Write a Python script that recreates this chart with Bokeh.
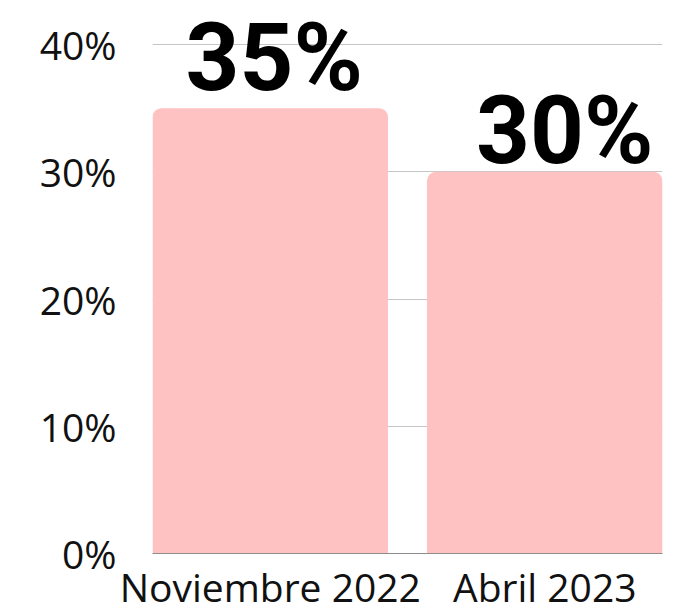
from bokeh.plotting import figure
from bokeh.models import ColumnDataSource, Range1d, FixedTicker, PrintfTickFormatter
from bokeh.core.properties import value
from bokeh.embed import file_html
from bokeh.resources import INLINE

categories = ["Noviembre 2022", "Abril 2023"]
values = [35, 30]
value_labels = ["35%", "30%"]
y_ticks = [0, 10, 20, 30, 40]

positions = list(range(len(categories)))
# label placement (style, screen pixels)
label_dx = [4, 20]
label_dy = [-50, -41]

src = ColumnDataSource(dict(x=positions, top=values, label=value_labels,
                            dx=label_dx, dy=label_dy))

p = figure(width=692, height=615, output_backend="svg", toolbar_location=None,
           x_range=Range1d(-0.429, 1.429), y_range=Range1d(0, 43.46),
           min_border_left=152, min_border_right=30, min_border_top=0,
           min_border_bottom=62)
p.outline_line_color = None
p.background_fill_color = "white"
p.border_fill_color = "white"

p.vbar(x="x", top="top", bottom=0, width=0.858, source=src,
       fill_color="#FFC2C2", line_color=None, border_radius=(9, 9, 0, 0))

p.text(x="x", y="top", text="label", source=src, x_offset="dx", y_offset="dy",
       text_align="center", text_baseline="alphabetic",
       text_font=value("Roboto"), text_font_style="bold",
       text_font_size="94px", text_color="black")

p.xgrid.grid_line_color = None
p.ygrid.ticker = FixedTicker(ticks=y_ticks)
p.ygrid.grid_line_color = "#c6c6c6"
p.ygrid.grid_line_width = 1

p.yaxis.ticker = FixedTicker(ticks=y_ticks)
p.yaxis.formatter = PrintfTickFormatter(format="%d%%")
p.yaxis.axis_line_color = None
p.yaxis.major_tick_line_color = None
p.yaxis.minor_tick_line_color = None
p.yaxis.major_label_text_font = "Open Sans"
p.yaxis.major_label_text_font_size = "39px"
p.yaxis.major_label_text_color = "#111111"
p.yaxis.major_label_standoff = 30

p.xaxis.ticker = FixedTicker(ticks=positions)
p.xaxis.major_label_overrides = {i: c for i, c in zip(positions, categories)}
p.xaxis.axis_line_color = "#8c8c8c"
p.xaxis.axis_line_width = 1
p.xaxis.major_tick_line_color = None
p.xaxis.minor_tick_line_color = None
p.xaxis.major_label_text_font = "Open Sans"
p.xaxis.major_label_text_font_size = "39px"
p.xaxis.major_label_text_color = "#111111"
p.xaxis.major_label_standoff = 0

open("out.html", "w").write(file_html(p, INLINE))
